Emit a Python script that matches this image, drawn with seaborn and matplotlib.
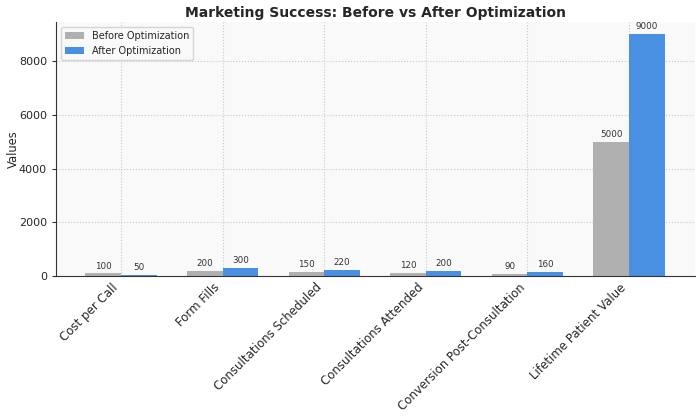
import pandas as pd
import matplotlib.pyplot as plt
import seaborn as sns

# Data
categories = ['Cost per Call', 'Form Fills', 'Consultations Scheduled',
              'Consultations Attended', 'Conversion Post-Consultation',
              'Lifetime Patient Value']
before = [100, 200, 150, 120, 90, 5000]
after = [50, 300, 220, 200, 160, 9000]
series = ['Before Optimization', 'After Optimization']

df = pd.DataFrame({
    'Metric': categories * 2,
    'Value': before + after,
    'Stage': [series[0]] * len(categories) + [series[1]] * len(categories),
})

sns.set_style("whitegrid", {
    'axes.facecolor': '#f9f9f9',
    'grid.color': '#cccccc',
    'grid.linestyle': ':',
    'axes.edgecolor': '#333333',
})

fig, ax = plt.subplots(figsize=(7, 4.17), dpi=100)
sns.barplot(data=df, x='Metric', y='Value', hue='Stage', hue_order=series,
            palette=['#b0b0b0', '#4a90e2'], width=0.7, saturation=1,
            linewidth=0, ax=ax)

for container in ax.containers:
    ax.bar_label(container, fontsize=6.3, color='#333333', padding=2)

ax.set_title('Marketing Success: Before vs After Optimization',
             fontsize=10, fontweight='bold', pad=4)
ax.set_ylabel('Values', fontsize=8.3)
ax.yaxis.set_label_coords(-0.057, 0.5)
ax.set_xlabel('')
ax.set_xlim(-0.64, len(categories) - 0.35)
ax.tick_params(axis='x', labelsize=8.5, length=0)
ax.tick_params(axis='y', labelsize=8, length=3, color='#333333', left=True)
plt.setp(ax.get_xticklabels(), rotation=45, ha='right')
sns.despine(ax=ax)
ax.grid(True, axis='both', linestyle=':', color='#c8c8c8', linewidth=0.8)
ax.legend(loc='upper left', fontsize=7, title=None, frameon=True)

fig.subplots_adjust(left=0.08, right=0.993, top=0.947, bottom=0.338)
plt.savefig('out.png', dpi=100)
plt.close()
